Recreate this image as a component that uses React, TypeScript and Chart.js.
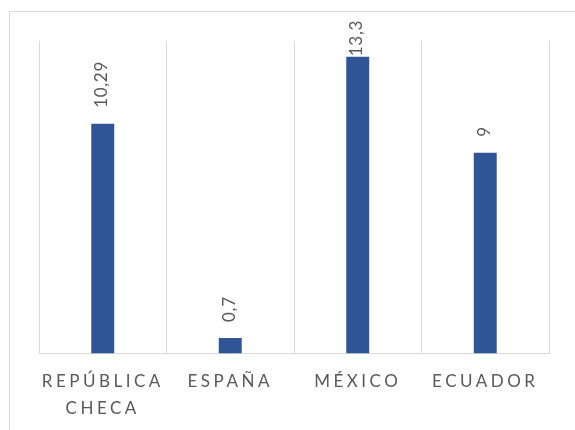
import React, { useEffect, useRef } from "react";
import { Chart, registerables } from "chart.js";

Chart.register(...registerables);

const categories: (string | string[])[] = [["REPÚBLICA", "CHECA"], "ESPAÑA", "MÉXICO", "ECUADOR"];
const values: number[] = [10.29, 0.7, 13.3, 9];
const valueLabels: string[] = ["10,29", "0,7", "13,3", "9"];
const yMin = 0;
const yMax = 14;

const BAR_COLOR = "#2f5597";
const GRID_COLOR = "#d9d9d9";
const TEXT_COLOR = "#595959";
const FONT = "Lato, 'Open Sans', sans-serif";

const letterSpacingPlugin = {
  id: "letterSpacing",
  beforeDraw(chart: any) {
    (chart.ctx as any).letterSpacing = "3.5px";
  },
  afterDraw(chart: any) {
    (chart.ctx as any).letterSpacing = "0px";
  },
};

const dataLabelPlugin = {
  id: "rotatedDataLabels",
  afterDatasetsDraw(chart: any) {
    const ctx = chart.ctx as CanvasRenderingContext2D;
    const meta = chart.getDatasetMeta(0);
    ctx.save();
    (ctx as any).letterSpacing = "0.7px";
    ctx.font = `17px ${FONT}`;
    ctx.fillStyle = TEXT_COLOR;
    ctx.textAlign = "left";
    ctx.textBaseline = "middle";
    meta.data.forEach((bar: any, i: number) => {
      const text = valueLabels[i];
      const w = ctx.measureText(text).width;
      let start = bar.y - 16;
      const minTop = 20;
      if (start - w < minTop) start = minTop + w;
      ctx.save();
      ctx.translate(bar.x - 1, start);
      ctx.rotate(-Math.PI / 2);
      ctx.fillText(text, 0, 0);
      ctx.restore();
    });
    ctx.restore();
  },
};

export default function App() {
  const canvasRef = useRef<HTMLCanvasElement | null>(null);

  useEffect(() => {
    if (!canvasRef.current) return;
    const chart = new Chart(canvasRef.current, {
      type: "bar",
      data: {
        labels: categories as any,
        datasets: [
          {
            data: values,
            backgroundColor: BAR_COLOR,
            borderWidth: 0,
            categoryPercentage: 1,
            barPercentage: 0.18,
          },
        ],
      },
      options: {
        responsive: false,
        animation: false,
        devicePixelRatio: 1,
        layout: { padding: { left: 39, right: 26, top: 41, bottom: 0 } },
        plugins: {
          legend: { display: false },
          tooltip: { enabled: false },
        },
        scales: {
          x: {
            grid: {
              offset: true,
              color: GRID_COLOR,
              lineWidth: 1,
              drawTicks: false,
            },
            border: { color: GRID_COLOR, width: 1 },
            ticks: {
              color: TEXT_COLOR,
              font: { family: FONT, size: 17, lineHeight: 1.6 },
              padding: 14,
              maxRotation: 0,
              autoSkip: false,
            },
          },
          y: {
            display: false,
            min: yMin,
            max: yMax,
          },
        },
      },
      plugins: [letterSpacingPlugin, dataLabelPlugin],
    });
    return () => chart.destroy();
  }, []);

  return (
    <div
      style={{
        position: "fixed",
        left: 0,
        top: 0,
        width: 575,
        height: 430,
        overflow: "hidden",
        background: "#ffffff",
      }}
    >
      <div
        style={{
          position: "absolute",
          left: 9,
          top: 11,
          width: 700,
          height: 600,
          border: `1px solid ${GRID_COLOR}`,
        }}
      />
      <canvas
        ref={canvasRef}
        width={575}
        height={436}
        style={{ position: "absolute", left: 0, top: 0, width: 575, height: 436 }}
      />
    </div>
  );
}
